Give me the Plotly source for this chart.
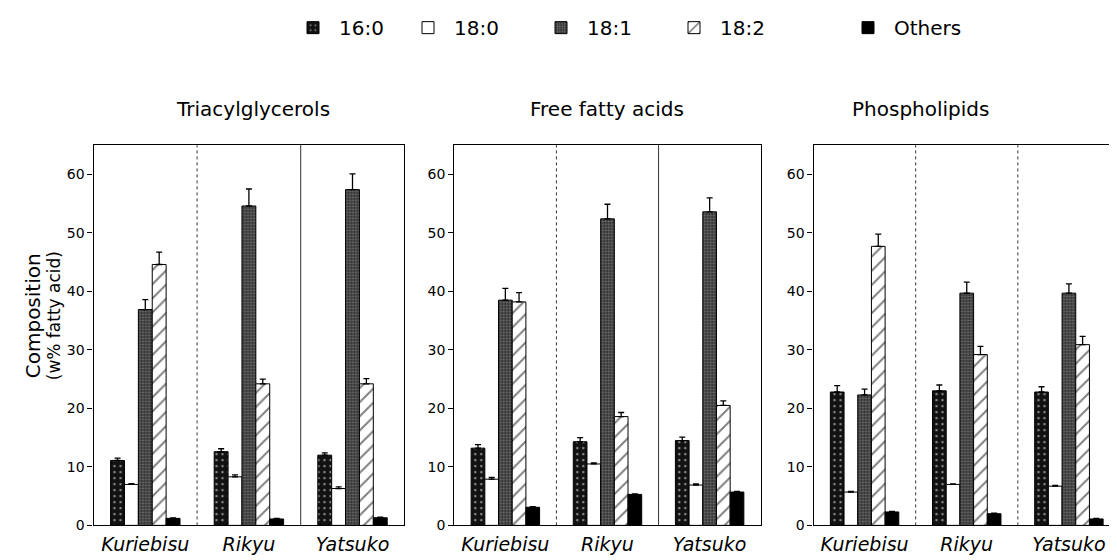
import plotly.graph_objects as go

# ---------------- data ----------------
varieties = ["Kuriebisu", "Rikyu", "Yatsuko"]
fatty_acids = ["16:0", "18:0", "18:1", "18:2", "Others"]
panel_titles = ["Triacylglycerols", "Free fatty acids", "Phospholipids"]
y_ticks = [0, 10, 20, 30, 40, 50, 60]

# Triacylglycerols
tag_160 = [11.1, 12.6, 12.0]
tag_180 = [7.0, 8.3, 6.3]
tag_181 = [36.9, 54.6, 57.4]
tag_182 = [44.6, 24.2, 24.2]
tag_oth = [1.2, 1.1, 1.3]
tag_160_err = [0.4, 0.5, 0.4]
tag_180_err = [0.15, 0.35, 0.3]
tag_181_err = [1.7, 2.9, 2.7]
tag_182_err = [2.1, 0.8, 0.9]
tag_oth_err = [0.1, 0.1, 0.1]

# Free fatty acids
ffa_160 = [13.2, 14.3, 14.5]
ffa_180 = [7.9, 10.5, 6.9]
ffa_181 = [38.5, 52.4, 53.6]
ffa_182 = [38.2, 18.6, 20.5]
ffa_oth = [3.1, 5.3, 5.7]
ffa_160_err = [0.6, 0.7, 0.6]
ffa_180_err = [0.3, 0.2, 0.2]
ffa_181_err = [2.0, 2.5, 2.4]
ffa_182_err = [1.6, 0.7, 0.8]
ffa_oth_err = [0.1, 0.1, 0.1]

# Phospholipids
pl_160 = [22.8, 23.0, 22.8]
pl_180 = [5.7, 7.0, 6.7]
pl_181 = [22.3, 39.7, 39.7]
pl_182 = [47.7, 29.2, 30.9]
pl_oth = [2.3, 2.0, 1.1]
pl_160_err = [1.1, 1.0, 0.9]
pl_180_err = [0.1, 0.1, 0.15]
pl_181_err = [1.0, 1.9, 1.6]
pl_182_err = [2.1, 1.4, 1.4]
pl_oth_err = [0.1, 0.1, 0.1]

panels = [
    ([tag_160, tag_180, tag_181, tag_182, tag_oth],
     [tag_160_err, tag_180_err, tag_181_err, tag_182_err, tag_oth_err]),
    ([ffa_160, ffa_180, ffa_181, ffa_182, ffa_oth],
     [ffa_160_err, ffa_180_err, ffa_181_err, ffa_182_err, ffa_oth_err]),
    ([pl_160, pl_180, pl_181, pl_182, pl_oth],
     [pl_160_err, pl_180_err, pl_181_err, pl_182_err, pl_oth_err]),
]

# ---------------- styles / geometry ----------------
W, H = 1117, 560
OX, OY = 8, 8          # page body margin offset of the rendered figure
FONT = "DejaVu Sans"


def px_x(sx):
    return (sx - OX) / W


def px_y(sy):
    return (H - (sy - OY)) / H


patterns = [
    dict(shape=".", bgcolor="#111111", fgcolor="#ffffff", size=6, solidity=0.14, fillmode="overlay"),
    dict(shape="", bgcolor="#ffffff"),
    dict(shape=".", bgcolor="#2a2a2a", fgcolor="#b4b4b4", size=3, solidity=0.45, fillmode="overlay"),
    dict(shape="/", bgcolor="#ffffff", fgcolor="#000000", size=10, solidity=0.2, fillmode="overlay"),
    dict(shape="", bgcolor="#000000"),
]
bar_colors = ["#111111", "#ffffff", "#2a2a2a", "#ffffff", "#000000"]

x_doms_px = [(93.5, 404.3), (454.3, 760.7), (813.5, 1120.0)]
y_bottom_px, y_top_px = 532.5, 142.5

fig = go.Figure()
legend_names = ["legend", "legend2", "legend3", "legend4", "legend5"]

for p, (vals, errs) in enumerate(panels):
    ax = "" if p == 0 else str(p + 1)
    for k, fa in enumerate(fatty_acids):
        pat = dict(patterns[k])
        fig.add_trace(go.Bar(
            x=varieties, y=vals[k], name=fa,
            xaxis="x" + ax, yaxis="y" + ax,
            marker=dict(color=bar_colors[k], line=dict(color="black", width=1),
                        pattern=pat if pat.get("shape") else None),
            error_y=dict(type="data", array=errs[k], arrayminus=[0] * len(errs[k]),
                         symmetric=False, color="black", thickness=1.3, width=3),
            showlegend=(p == 0), legend=legend_names[k],
            offsetgroup=str(k),
        ))

layout = dict(
    width=W, height=H,
    margin=dict(l=0, r=0, t=0, b=0),
    paper_bgcolor="white", plot_bgcolor="white",
    barmode="group", bargap=0.33, bargroupgap=0,
    font=dict(family=FONT, color="black"),
)

yd = [px_y(y_bottom_px), px_y(y_top_px)]
for p in range(3):
    ax = "" if p == 0 else str(p + 1)
    x0, x1 = x_doms_px[p]
    layout["xaxis" + ax] = dict(
        domain=[px_x(x0), min(px_x(x1), 1.0)], anchor="y" + ax,
        type="category", categoryorder="array", categoryarray=varieties,
        range=[-0.5, 2.5], showline=True, linecolor="black", linewidth=1,
        mirror=True, ticks="", showgrid=False, zeroline=False,
        tickfont=dict(family=FONT, size=19, style="italic", color="black"),
        ticklabelstandoff=2,
        fixedrange=True,
    )
    layout["yaxis" + ax] = dict(
        domain=yd, anchor="x" + ax, range=[0, 65],
        tickvals=y_ticks, ticks="outside", ticklen=5, tickwidth=1, tickcolor="black",
        showline=True, linecolor="black", linewidth=1.3,
        mirror=True, showgrid=False, zeroline=False,
        tickfont=dict(family=FONT, size=14, color="black"),
        fixedrange=True,
    )

legend_icon_px = [313, 428, 561, 694, 868]
for k, ln in enumerate(legend_names):
    layout[ln] = dict(
        x=px_x(legend_icon_px[k] - 26), y=px_y(22),
        xanchor="left", yanchor="middle", orientation="h",
        itemwidth=42,
        font=dict(family=FONT, size=20, color="black"),
        bgcolor="rgba(0,0,0,0)", borderwidth=0,
    )

fig.update_layout(**layout)

divider_dash = [["dot", "solid"], ["dot", "solid"], ["dot", "dot"]]
for p in range(3):
    ax = "" if p == 0 else str(p + 1)
    for j, xpos in enumerate([0.5, 1.5]):
        fig.add_shape(type="line", xref="x" + ax, yref="y" + ax + " domain",
                      x0=xpos, x1=xpos, y0=0, y1=1,
                      line=dict(color="#333333", width=1, dash=divider_dash[p][j]))

title_px = [253, 607, 920]
for p, t in enumerate(panel_titles):
    fig.add_annotation(text=t, xref="paper", yref="paper",
                       x=px_x(title_px[p]), y=px_y(105), showarrow=False,
                       xanchor="center", yanchor="middle",
                       font=dict(family=FONT, size=20, color="black"))

fig.add_annotation(text="Composition", xref="paper", yref="paper",
                   x=px_x(33), y=px_y(318), showarrow=False, textangle=-90,
                   xanchor="center", yanchor="middle",
                   font=dict(family=FONT, size=20, color="black"))
fig.add_annotation(text="(w% fatty acid)", xref="paper", yref="paper",
                   x=px_x(54), y=px_y(318), showarrow=False, textangle=-90,
                   xanchor="center", yanchor="middle",
                   font=dict(family=FONT, size=17, color="black"))

fig.write_html("out.html")
